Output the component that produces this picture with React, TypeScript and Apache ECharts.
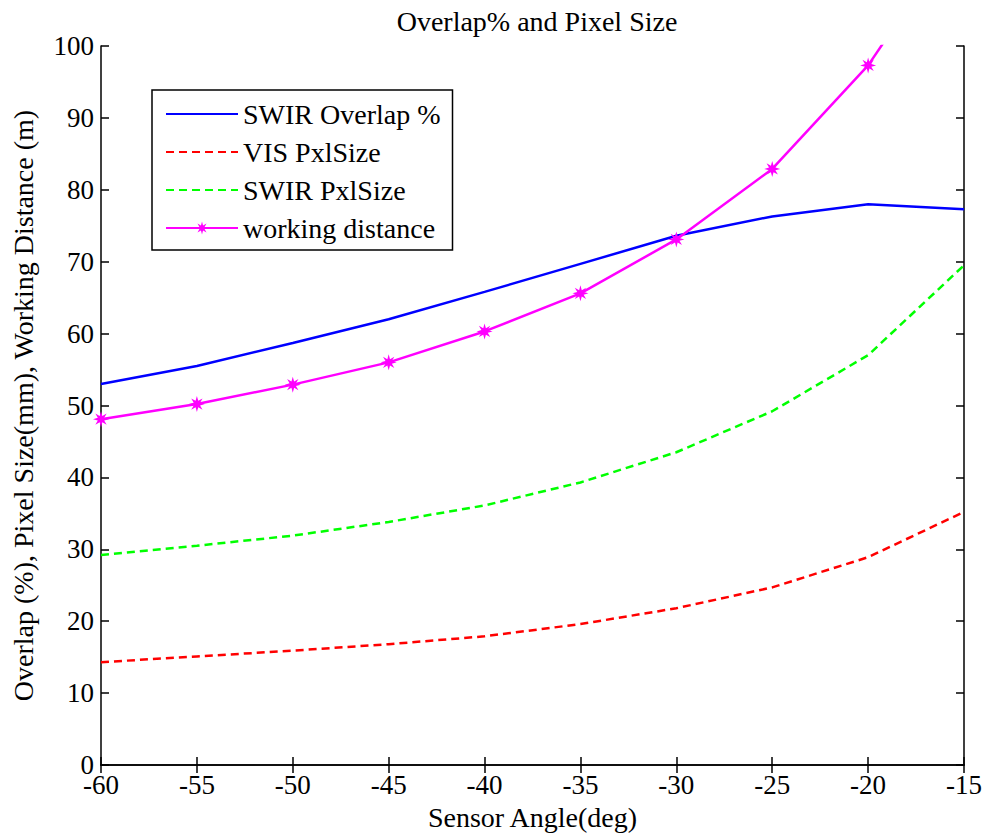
import React, { useEffect, useRef } from "react";
import * as echarts from "echarts";

const angles = [-60, -55, -50, -45, -40, -35, -30, -25, -20, -15];
const swirOverlap = [53.0, 55.5, 58.7, 62.0, 65.8, 69.7, 73.6, 76.3, 78.0, 77.3];
const visPxlSize = [14.3, 15.1, 15.9, 16.8, 17.9, 19.6, 21.8, 24.7, 28.9, 35.2];
const swirPxlSize = [29.2, 30.5, 31.9, 33.8, 36.1, 39.3, 43.5, 49.2, 57.0, 69.5];
const workingDistance = [48.1, 50.2, 52.9, 56.0, 60.3, 65.6, 73.1, 82.9, 97.3, 117];

const FONT = "Liberation Serif";
const STAR =
  "path://M10 0 L4 1.66 L7.07 7.07 L1.66 4 L0 10 L-1.66 4 L-7.07 7.07 L-4 1.66 L-10 0 L-4 -1.66 L-7.07 -7.07 L-1.66 -4 L0 -10 L1.66 -4 L7.07 -7.07 L4 -1.66 Z";

const pairs = (ys: number[]) => angles.map((x, i) => [x, ys[i]]);

export default function App() {
  const ref = useRef<HTMLDivElement>(null);
  useEffect(() => {
    if (!ref.current) return;
    const chart = echarts.init(ref.current, undefined, { renderer: "svg" });
    const axisLine = { show: true, lineStyle: { color: "#000", width: 1.5 } };
    const axisTick = { show: true, inside: true, length: 8, lineStyle: { color: "#000", width: 1.5 } };
    chart.setOption({
      animation: false,
      backgroundColor: "#fff",
      textStyle: { fontFamily: FONT },
      title: {
        text: "Overlap% and Pixel Size",
        left: 532,
        textAlign: "center",
        top: 2,
        textStyle: { fontFamily: FONT, fontSize: 28, fontWeight: "normal", color: "#000" },
      },
      legend: {
        orient: "vertical",
        left: 152,
        top: 90,
        padding: [10, 12, 8, 13],
        itemWidth: 72,
        itemHeight: 16,
        itemGap: 10,
        borderColor: "#000",
        borderWidth: 1.5,
        backgroundColor: "#fff",
        textStyle: { fontFamily: FONT, fontSize: 28, color: "#000" },
        data: [
          { name: "SWIR Overlap %", itemStyle: { opacity: 0 } },
          { name: "VIS PxlSize", itemStyle: { opacity: 0 } },
          { name: "SWIR PxlSize", itemStyle: { opacity: 0 } },
          { name: "working distance" },
        ],
      },
      grid: { left: 101, right: 19, top: 46, bottom: 73 },
      xAxis: [
        {
          type: "value",
          min: -60,
          max: -15,
          interval: 5,
          name: "Sensor Angle(deg)",
          nameLocation: "middle",
          nameGap: 38,
          nameTextStyle: { fontFamily: FONT, fontSize: 28, color: "#000" },
          axisLine,
          axisTick,
          splitLine: { show: false },
          axisLabel: { fontFamily: FONT, fontSize: 27, color: "#000", margin: 6 },
        },
        {
          type: "value",
          position: "top",
          min: -60,
          max: -15,
          interval: 5,
          axisLine,
          axisTick,
          splitLine: { show: false },
          axisLabel: { show: false },
        },
      ],
      yAxis: [
        {
          type: "value",
          min: 0,
          max: 100,
          interval: 10,
          name: "Overlap (%), Pixel Size(mm), Working Distance (m)",
          nameLocation: "middle",
          nameGap: 64,
          nameTextStyle: { fontFamily: FONT, fontSize: 28, color: "#000" },
          axisLine,
          axisTick,
          splitLine: { show: false },
          axisLabel: { fontFamily: FONT, fontSize: 27, color: "#000", margin: 7 },
        },
        {
          type: "value",
          position: "right",
          min: 0,
          max: 100,
          interval: 10,
          axisLine,
          axisTick,
          splitLine: { show: false },
          axisLabel: { show: false },
        },
      ],
      series: [
        {
          name: "SWIR Overlap %",
          type: "line",
          data: pairs(swirOverlap),
          symbol: "none",
          lineStyle: { color: "#0000ff", width: 2.5 },
          itemStyle: { color: "#0000ff" },
        },
        {
          name: "VIS PxlSize",
          type: "line",
          data: pairs(visPxlSize),
          symbol: "none",
          lineStyle: { color: "#ff0000", width: 2.5, type: [8, 5] },
          itemStyle: { color: "#ff0000" },
        },
        {
          name: "SWIR PxlSize",
          type: "line",
          data: pairs(swirPxlSize),
          symbol: "none",
          lineStyle: { color: "#00ff00", width: 2.5, type: [8, 5] },
          itemStyle: { color: "#00ff00" },
        },
        {
          name: "working distance",
          type: "line",
          data: pairs(workingDistance),
          symbol: STAR,
          symbolSize: 16,
          showSymbol: true,
          clip: true,
          lineStyle: { color: "#ff00ff", width: 2.5 },
          itemStyle: { color: "#ff00ff" },
        },
      ],
    });
    return () => chart.dispose();
  }, []);
  return (
    <div
      ref={ref}
      style={{ position: "absolute", left: 0, top: 0, width: 985, height: 838 }}
    />
  );
}
